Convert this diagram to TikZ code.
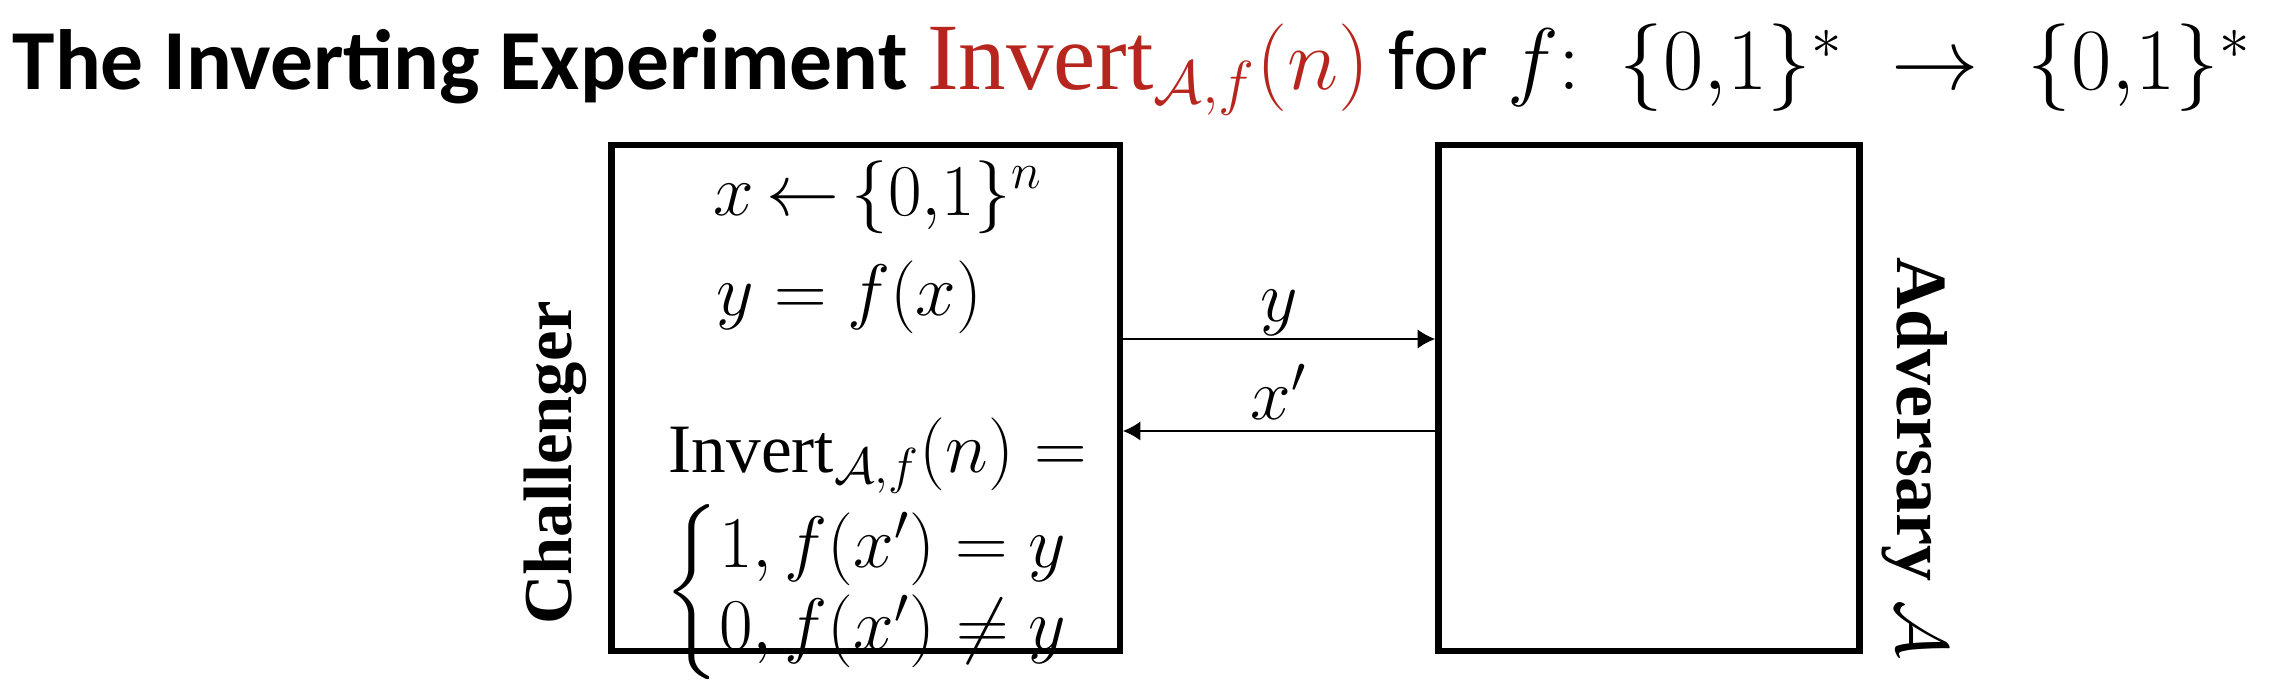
\documentclass[tikz,border=0pt]{standalone}
\usepackage{amsmath}
\usepackage{fontspec}
\setmainfont{Liberation Serif}
\newfontfamily\titlefont{Carlito}
\usetikzlibrary{arrows.meta}
\definecolor{titlered}{RGB}{183,38,30}
\begin{document}
\begin{tikzpicture}[x=0.01cm,y=-0.01cm,
  box/.style={draw,line width=1.8pt,minimum width=#1,minimum height=5.06cm,inner sep=0pt},
  arr/.style={line width=0.6pt,-{Latex[length=5pt,width=5.5pt]}},
  mtext/.style={inner sep=0pt,font=\fontsize{19.7}{23.5}\selectfont},
  side/.style={inner sep=0pt,font=\fontsize{#1}{24}\selectfont\bfseries}]
\useasboundingbox (0,0) rectangle (2289,695);
% title
\node[anchor=base west,inner sep=0pt,font=\fontsize{24.3}{30}\selectfont\titlefont] (title) at (12,90)
  {\textbf{The Inverting Experiment} {\fontsize{27}{30}\selectfont\textcolor{titlered}{$\mathrm{Invert}_{\mathcal{A},f}(n)$}} for {\fontsize{27}{30}\selectfont$f\mathpunct{:}\;\{0{,}1\}^*\;\rightarrow\;\{0{,}1\}^*$}};
% boxes
\node[box=5.08cm] (chal) at (865.5,398) {};
\node[box=4.21cm] (adv) at (1649,398) {};
% side labels
\node[side=19.5,rotate=90] (chl) at (555,463) {Challenger};
\node[side=20.5,rotate=-90] (advl) at (1915,458) {Adversary $\mathcal{A}$};
% challenger contents
\node[mtext,anchor=west] (l1) at (713,197) {$x\mkern3mu{\leftarrow}\mkern3mu\{0{,}1\}^n$};
\node[mtext,anchor=west] (l2) at (716,297) {$y=f(x)$};
\node[mtext,anchor=west] (l3) at (668,456) {$\mathrm{Invert}_{\mathcal{A},f}(n)=$};
\node[mtext,anchor=west] (l4) at (664,592) {$\left\{\begin{array}{@{}l@{}}1,f(x')=y\\0,f(x')\neq y\end{array}\right.$};
% messages
\coordinate (ya) at (0,339);
\coordinate (xa) at (0,431);
\draw[arr] (chal.east |- ya) -- (adv.west |- ya) node[mtext,midway,above=0.5pt] (ly) {$y$};
\draw[arr] (adv.west |- xa) -- (chal.east |- xa) node[mtext,midway,above=3pt] (lx) {$x'$};
\end{tikzpicture}
\end{document}
